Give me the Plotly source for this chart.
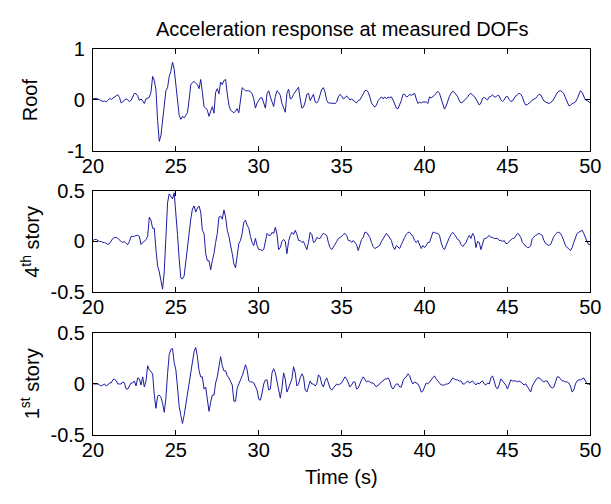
import numpy as np
import plotly.graph_objects as go

# ---------------- data ----------------
t_start = 20.0
t_step = 0.1
n_samples = 301
time = np.round(t_start + t_step * np.arange(n_samples), 1)

roof = [
    0.02, 0.03, 0.03, 0.02, 0.0, -0.02, -0.03, -0.02, -0.04, -0.01,
    0.03, 0.01, 0.04, 0.06, 0.08, 0.10, 0.05, -0.06, -0.03, 0.0,
    0.02, 0.0, -0.03, -0.01, 0.05, 0.13, 0.12, 0.08, -0.01, 0.02,
    -0.02, -0.07, 0.02, 0.04, 0.05, 0.15, 0.46, 0.38, 0.20, -0.40,
    -0.81, -0.70, -0.40, -0.07, 0.18, 0.24, 0.46, 0.56, 0.74, 0.60,
    0.30, -0.10, -0.30, -0.38, -0.32, -0.35, -0.31, -0.25, 0.0, 0.30,
    0.34, 0.36, 0.33, 0.30, 0.22, 0.40, 0.15, -0.13, -0.16, -0.20,
    -0.32, -0.20, -0.13, -0.26, 0.15, 0.22, 0.12, 0.35, 0.30, 0.38,
    0.40, 0.12, -0.10, -0.20, -0.22, -0.25, -0.22, -0.17, -0.25, 0.05,
    0.24, 0.21, 0.18, 0.18, 0.18, 0.16, 0.12, 0.02, -0.16, -0.06,
    0.0, 0.04, 0.04, -0.07, -0.16, 0.12, 0.18, 0.06, -0.06, -0.13,
    0.07, 0.18, 0.15, 0.09, -0.07, -0.16, -0.24, 0.13, 0.21, 0.02,
    0.04, 0.11, 0.15, 0.21, 0.25, 0.02, -0.16, -0.14, -0.04, 0.11,
    0.13, -0.01, 0.06, 0.11, -0.04, -0.06, -0.01, 0.13, 0.21, 0.24,
    0.15, -0.01, -0.06, -0.06, -0.06, -0.06, -0.07, -0.04, 0.06, 0.11,
    0.08, 0.02, 0.04, 0.08, 0.04, 0.0, 0.02, -0.01, -0.02, -0.06,
    -0.01, 0.0, 0.06, 0.12, 0.18, 0.19, 0.15, 0.06, -0.06, -0.10,
    -0.14, -0.10, -0.01, 0.02, 0.06, 0.02, 0.06, 0.02, 0.06, 0.04,
    0.06, 0.0, -0.07, -0.16, -0.17, -0.10, -0.01, 0.11, 0.11, 0.06,
    0.07, 0.11, 0.09, 0.11, 0.13, 0.02, -0.07, -0.04, -0.06, -0.04,
    -0.04, -0.04, -0.07, 0.06, 0.04, 0.06, 0.09, 0.13, 0.17, 0.13,
    0.02, -0.10, -0.18, -0.12, -0.02, 0.07, 0.13, 0.17, 0.15, 0.10,
    0.06, -0.02, -0.06, -0.04, -0.01, 0.02, 0.06, 0.11, 0.13, 0.09,
    0.07, 0.02, -0.04, -0.10, -0.06, 0.03, 0.05, 0.02, 0.0, 0.06,
    0.07, 0.10, 0.06, 0.06, 0.09, 0.08, 0.0, -0.03, 0.0, 0.06,
    0.07, 0.01, -0.03, -0.02, 0.04, 0.08, 0.10, 0.13, 0.11, 0.06,
    -0.04, -0.10, -0.09, -0.07, -0.04, 0.0, 0.01, 0.03, 0.07, 0.11,
    0.10, 0.04, -0.02, -0.04, -0.06, -0.07, -0.05, -0.03, 0.02, 0.09,
    0.14, 0.17, 0.18, 0.16, 0.12, 0.04, -0.05, -0.11, -0.11, -0.07,
    -0.06, -0.04, 0.02, 0.12, 0.18, 0.15, 0.08, 0.0, -0.01, -0.04,
    -0.06,
]

story4 = [
    0.01, 0.02, 0.02, 0.01, 0.0, 0.0, -0.01, -0.01, -0.02, -0.03,
    -0.02, 0.01, 0.03, 0.04, 0.04, 0.03, 0.01, 0.0, -0.01, 0.0,
    -0.02, -0.03, 0.0, 0.05, 0.05, 0.05, 0.06, 0.06, 0.05, -0.03,
    -0.01, 0.0, 0.02, 0.05, 0.24, 0.21, 0.13, 0.13, -0.08, -0.24,
    -0.30, -0.41, -0.47, -0.30, -0.01, 0.38, 0.47, 0.44, 0.42, 0.48,
    0.30, 0.07, -0.17, -0.36, -0.37, -0.34, -0.20, -0.04, 0.11, 0.22,
    0.32, 0.35, 0.29, 0.33, 0.35, 0.29, 0.11, 0.08, -0.12, -0.19,
    -0.19, -0.28, -0.19, -0.12, -0.01, 0.08, 0.24, 0.25, 0.22, 0.31,
    0.24, 0.11, 0.05, -0.06, -0.12, -0.22, -0.26, -0.14, -0.02, 0.01,
    0.08, 0.19, 0.21, 0.16, 0.13, 0.05, -0.01, -0.04, 0.03, -0.04,
    -0.08, -0.08, -0.09, -0.08, -0.01, 0.08, 0.06, 0.06, 0.09, 0.08,
    0.14, 0.07, -0.08, -0.06, 0.0, 0.02, 0.0, -0.12, 0.0, 0.06,
    0.09, 0.07, 0.11, 0.07, 0.01, 0.01, -0.01, 0.0, -0.04, -0.08,
    -0.01, 0.09, 0.07, -0.01, 0.0, 0.04, 0.03, 0.03, 0.06, 0.08,
    0.07, 0.06, -0.01, -0.06, -0.08, -0.06, -0.03, 0.0, 0.03, 0.04,
    0.05, 0.07, 0.08, 0.06, 0.01, 0.01, -0.01, 0.01, -0.01, -0.03,
    -0.09, -0.03, 0.02, 0.04, 0.09, 0.09, 0.06, 0.04, -0.01, -0.05,
    -0.07, -0.06, -0.05, -0.04, 0.0, 0.03, 0.05, 0.08, 0.06, 0.04,
    0.01, -0.05, -0.08, -0.04, -0.06, -0.07, -0.03, 0.01, 0.04, 0.07,
    0.09, 0.09, 0.07, 0.05, 0.01, -0.01, 0.01, -0.04, -0.07, -0.04,
    -0.06, -0.04, -0.01, -0.01, 0.04, 0.09, 0.09, 0.08, 0.08, 0.06,
    -0.01, -0.06, -0.08, -0.04, 0.01, 0.04, 0.07, 0.09, 0.07, 0.04,
    0.02, 0.01, -0.03, -0.05, -0.03, -0.01, 0.03, 0.06, 0.03, 0.08,
    0.05, -0.06, 0.0, -0.01, -0.08, -0.01, 0.03, 0.03, 0.05, 0.06,
    0.04, 0.04, 0.03, 0.03, 0.03, 0.01, 0.01, 0.0, 0.01, -0.02,
    -0.02, 0.0, 0.02, 0.03, 0.03, 0.06, 0.08, 0.07, 0.04, -0.01,
    -0.03, -0.04, -0.06, -0.06, -0.04, 0.03, 0.05, 0.06, 0.07, 0.08,
    0.07, 0.06, 0.01, -0.02, -0.03, -0.04, -0.03, 0.01, 0.05, 0.07,
    0.09, 0.09, 0.08, 0.05, 0.0, -0.04, -0.06, -0.07, -0.09, -0.06,
    -0.01, 0.03, 0.08, 0.09, 0.10, 0.11, 0.08, 0.03, 0.0, -0.03,
    -0.03,
]

story1 = [
    0.0, 0.0, 0.0, 0.0, -0.01, -0.02, -0.01, 0.0, -0.02, -0.01,
    0.01, 0.01, 0.04, 0.05, 0.03, 0.0, 0.0, 0.0, 0.02, 0.01,
    -0.05, -0.05, -0.02, 0.01, 0.01, 0.03, -0.02, 0.06, 0.05, -0.01,
    0.07, -0.03, 0.03, 0.18, 0.14, 0.12, 0.10, -0.11, -0.24, -0.12,
    -0.11, -0.13, -0.19, -0.28, -0.14, 0.10, 0.29, 0.34, 0.35, 0.21,
    0.14, -0.03, -0.22, -0.31, -0.39, -0.31, -0.20, -0.08, 0.04, 0.14,
    0.26, 0.32, 0.36, 0.27, 0.13, 0.07, 0.07, -0.05, -0.03, -0.14,
    -0.27, -0.18, -0.11, -0.11, 0.01, 0.07, 0.16, 0.27, 0.18, 0.13,
    0.13, 0.08, 0.06, 0.03, -0.01, -0.17, -0.17, -0.04, 0.0, 0.03,
    0.08, 0.13, 0.19, 0.14, 0.03, 0.02, 0.02, 0.01, -0.02, -0.06,
    -0.15, -0.16, -0.09, 0.0, 0.04, 0.04, -0.06, -0.05, 0.11, 0.15,
    0.11, 0.03, -0.06, -0.14, -0.04, 0.11, 0.05, -0.08, -0.04, 0.0,
    0.05, 0.17, 0.11, -0.02, 0.0, 0.06, 0.10, 0.07, -0.06, -0.08,
    -0.01, 0.03, 0.0, 0.0, -0.02, 0.0, 0.09, 0.07, 0.0, -0.03,
    0.03, 0.06, 0.01, -0.04, -0.06, -0.04, -0.03, 0.0, -0.01, 0.0,
    0.01, 0.04, 0.07, 0.05, 0.01, -0.03, -0.01, 0.02, 0.02, -0.05,
    -0.04, 0.01, 0.04, 0.07, 0.05, 0.02, 0.03, 0.02, 0.01, 0.01,
    -0.01, -0.03, -0.01, 0.0, 0.02, 0.03, 0.05, 0.05, 0.06, 0.03,
    -0.03, -0.05, -0.02, 0.0, 0.0, -0.03, -0.03, 0.03, 0.06, 0.07,
    0.10, 0.08, 0.03, 0.0, 0.02, 0.01, 0.0, -0.03, -0.08, -0.07,
    -0.03, 0.01, 0.0, 0.02, 0.04, 0.07, 0.08, 0.05, 0.03, 0.02,
    -0.01, -0.01, -0.01, 0.0, 0.0, 0.01, 0.03, 0.06, 0.05, 0.04,
    0.04, 0.03, 0.03, 0.0, 0.0, 0.02, 0.03, 0.01, 0.02, 0.03,
    0.01, -0.01, 0.01, 0.0, 0.02, 0.03, 0.0, -0.01, 0.01, 0.0,
    0.06, 0.08, 0.03, -0.03, -0.05, -0.01, 0.05, 0.03, 0.02, -0.01,
    -0.05, 0.0, 0.04, 0.03, 0.03, 0.03, 0.02, 0.03, 0.02, 0.0,
    -0.01, 0.0, -0.02, -0.05, -0.08, -0.02, 0.01, 0.04, 0.06, 0.06,
    0.05, 0.03, 0.02, 0.03, 0.03, 0.0, -0.03, -0.04, -0.03, 0.02,
    0.07, 0.07, 0.05, 0.03, 0.03, 0.02, 0.02, 0.01, -0.02, -0.08,
    -0.06, 0.0, 0.03, 0.04, 0.04, 0.05, 0.06, 0.03, 0.0, 0.0,
    -0.01,
]

x_ticks = [20, 25, 30, 35, 40, 45, 50]
x_ticktext = ["20", "25", "30", "35", "40", "45", "50"]
roof_ticks = [-1, 0, 1]
roof_ticktext = ["-1", "0", "1"]
story_ticks = [-0.5, 0, 0.5]
story_ticktext = ["-0.5", "0", "0.5"]

title_text = "Acceleration response at measured DOFs"
x_label = "Time (s)"
panel_labels = ["Roof", "4<sup>th</sup> story", "1<sup>st</sup> story"]

# ---------------- figure ----------------
W, H = 611, 504
FONT = "Liberation Sans, Arial, Helvetica, sans-serif"
FS = 20
LINE_COLOR = "#1c1ca0"

x_dom = [85 / W, 601 / W]
panels_px = [(39.5, 146.5), (188.0, 294.0), (337.0, 443.0)]
y_doms = [[1 - b / H, 1 - t / H] for (t, b) in panels_px]

series = [roof, story4, story1]
y_ranges = [[-1, 1], [-0.5, 0.5], [-0.5, 0.5]]
y_tickvals = [roof_ticks, story_ticks, story_ticks]
y_ticktexts = [roof_ticktext, story_ticktext, story_ticktext]

fig = go.Figure()
axis_common = dict(
    showline=True, linecolor="black", linewidth=1, mirror="ticks",
    ticks="inside", ticklen=5, tickcolor="black", tickwidth=1,
    showgrid=False, zeroline=False, ticklabeloverflow="allow",
    tickfont=dict(family=FONT, size=FS, color="black"),
)

layout_axes = {}
for i in range(3):
    suffix = "" if i == 0 else str(i + 1)
    fig.add_trace(go.Scatter(
        x=time, y=series[i], mode="lines",
        line=dict(color=LINE_COLOR, width=1),
        xaxis="x" + suffix, yaxis="y" + suffix,
        showlegend=False, hoverinfo="skip",
    ))
    layout_axes["xaxis" + suffix] = dict(
        domain=x_dom, range=[20, 50], anchor="y" + suffix,
        tickmode="array", tickvals=x_ticks, ticktext=x_ticktext,
        ticklabelstandoff=-3,
        **axis_common,
    )
    layout_axes["yaxis" + suffix] = dict(
        domain=y_doms[i], range=y_ranges[i], anchor="x" + suffix,
        tickmode="array", tickvals=y_tickvals[i], ticktext=y_ticktexts[i],
        ticklabelstandoff=3,
        **axis_common,
    )

fig.update_layout(
    width=W, height=H, autosize=False,
    margin=dict(l=0, r=0, t=0, b=0),
    paper_bgcolor="white", plot_bgcolor="white",
    font=dict(family=FONT, size=FS, color="black"),
    **layout_axes,
)

annotations = [
    dict(text=title_text, x=(85 + 601) / 2 / W, y=1 - 19 / H, xref="paper", yref="paper",
         xanchor="center", yanchor="middle", showarrow=False,
         font=dict(family=FONT, size=FS, color="black")),
    dict(text=x_label, x=(85 + 601) / 2 / W, y=1 - 487 / H, xref="paper", yref="paper",
         xanchor="center", yanchor="middle", showarrow=False,
         font=dict(family=FONT, size=FS, color="black")),
]
for i, lab in enumerate(panel_labels):
    t, b = panels_px[i]
    annotations.append(dict(
        text=lab, x=20 / W, y=1 - (t + b) / 2 / H, xref="paper", yref="paper",
        xanchor="center", yanchor="middle", textangle=-90, showarrow=False,
        font=dict(family=FONT, size=FS, color="black"),
    ))
fig.update_layout(annotations=annotations)

fig.write_html("out.html")
